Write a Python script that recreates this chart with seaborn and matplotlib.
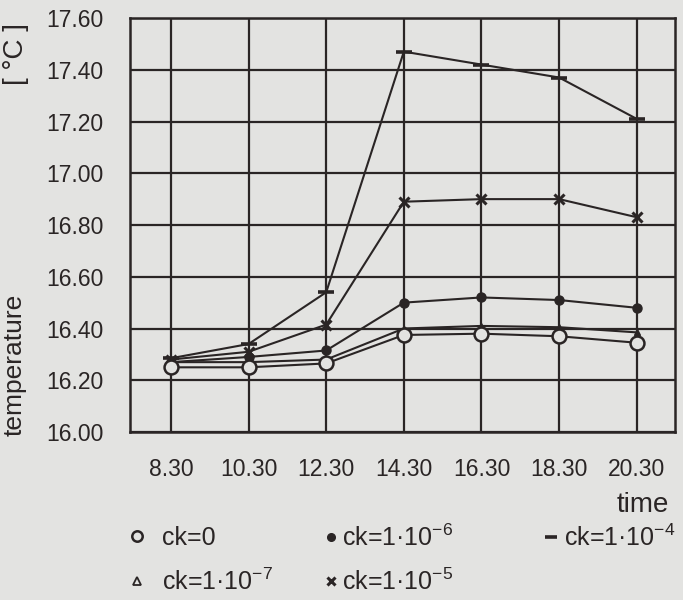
import matplotlib
matplotlib.use("Agg")
import matplotlib.pyplot as plt
import seaborn as sns
import pandas as pd
from matplotlib.lines import Line2D

times = ["8.30", "10.30", "12.30", "14.30", "16.30", "18.30", "20.30"]
ck_0 = [16.25, 16.25, 16.265, 16.375, 16.38, 16.37, 16.345]
ck_1e7 = [16.27, 16.27, 16.28, 16.40, 16.41, 16.405, 16.385]
ck_1e6 = [16.27, 16.29, 16.315, 16.50, 16.52, 16.51, 16.48]
ck_1e5 = [16.28, 16.31, 16.415, 16.89, 16.90, 16.90, 16.83]
ck_1e4 = [16.285, 16.34, 16.54, 17.47, 17.42, 17.37, 17.21]
labels = ["ck=0", "ck=1·10$^{-7}$", "ck=1·10$^{-6}$", "ck=1·10$^{-5}$", "ck=1·10$^{-4}$"]
y_ticks = [16.00, 16.20, 16.40, 16.60, 16.80, 17.00, 17.20, 17.40, 17.60]

BG = "#e3e3e1"
INK = "#2a2525"

sns.set_style("white")
plt.rcParams["font.family"] = ["Liberation Sans", "DejaVu Sans"]
plt.rcParams["mathtext.fontset"] = "custom"
plt.rcParams["mathtext.rm"] = "Liberation Sans"

fig = plt.figure(figsize=(6.83, 6.0), dpi=100, facecolor=BG)
ax = fig.add_axes([0.190, 0.28, 0.798, 0.69])
ax.set_facecolor(BG)

series = [ck_0, ck_1e7, ck_1e6, ck_1e5, ck_1e4]
styles = [
    dict(marker="o", ms=10, mfc=BG, mec=INK, mew=1.8),
    dict(marker="^", ms=4, mfc=INK, mec=INK, mew=1.0),
    dict(marker="o", ms=6.5, mfc=INK, mec=INK, mew=1.0),
    dict(marker="x", ms=7, mfc=INK, mec=INK, mew=2.2),
    dict(marker="_", ms=12, mfc=INK, mec=INK, mew=2.6),
]
zorders = [6, 5, 4, 4, 4]
for vals, st, z in zip(series, styles, zorders):
    df = pd.DataFrame({"time": times, "temperature": vals})
    sns.lineplot(data=df, x="time", y="temperature", ax=ax, color=INK,
                 lw=1.5, sort=False, zorder=z, **st)

ax.set_xlim(-0.53, 6.49)
ax.set_ylim(16.0, 17.6)
ax.set_yticks(y_ticks)
ax.set_yticklabels([f"{v:.2f}" for v in y_ticks])
ax.grid(True, color=INK, lw=1.6)
ax.set_axisbelow(True)
for s in ax.spines.values():
    s.set_color(INK)
    s.set_linewidth(1.8)
ax.tick_params(axis="both", direction="out", length=7, width=1.6, color=INK,
               labelsize=16.5, labelcolor=INK)
ax.tick_params(axis="x", pad=12)
ax.tick_params(axis="y", pad=12)
ax.set_xlabel("")
ax.set_ylabel("")

fig.text(0.021, 0.392, "temperature", rotation=90, ha="center", va="center",
         fontsize=19, color=INK)
fig.text(0.023, 0.910, "[ °C ]", rotation=90, ha="center", va="center",
         fontsize=20, color=INK)
fig.text(0.979, 0.158, "time", ha="right", va="center", fontsize=20, color=INK)

# legend entries: (label index, left px, centre y px, handletextpad)
legend_pos = [(0, 129, 538, 0.72), (1, 129, 582, 0.72),
              (2, 323, 538, 0.17), (3, 323, 582, 0.17),
              (4, 543, 538, 0.25)]
W, H = 683, 600
leg_ms = [7.5, 6, 5.5, 6, 9]
for i, xl, yc, pad in legend_pos:
    st = dict(styles[i], ms=leg_ms[i])
    if i == 1:
        st.update(mfc=BG, mew=1.3)
    h = Line2D([], [], ls="none", color=INK, **st)
    fig.legend([h], [labels[i]], loc="center left",
               bbox_to_anchor=(xl / W, 1 - yc / H), frameon=False,
               fontsize=18, labelcolor=INK, handlelength=0.6,
               handletextpad=pad, borderpad=0, borderaxespad=0)

fig.savefig("out.png", dpi=100, facecolor=BG)
